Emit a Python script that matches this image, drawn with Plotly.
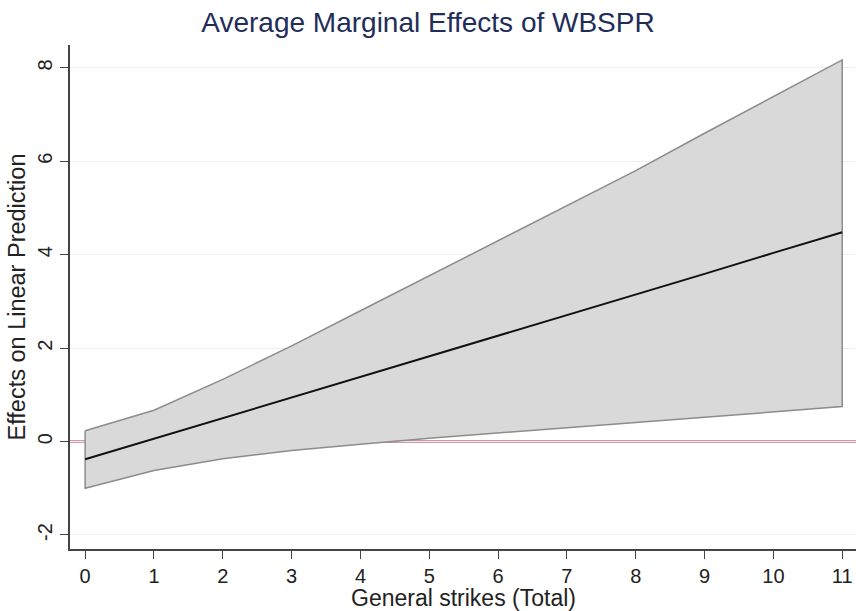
import plotly.graph_objects as go

strikes = [0, 1, 2, 3, 4, 5, 6, 7, 8, 9, 10, 11]
ame = [-0.38, 0.06, 0.50, 0.94, 1.39, 1.83, 2.27, 2.71, 3.15, 3.59, 4.04, 4.48]
upper = [0.23, 0.67, 1.33, 2.05, 2.80, 3.55, 4.30, 5.05, 5.80, 6.60, 7.38, 8.17]
lower = [-1.00, -0.62, -0.37, -0.19, -0.06, 0.07, 0.19, 0.30, 0.41, 0.52, 0.63, 0.75]
y_ticks = [-2, 0, 2, 4, 6, 8]
y_ticktext = ["-2", "0", "2", "4", "6", "8"]

FONT = "Liberation Sans, Arial, sans-serif"

fig = go.Figure()
fig.add_trace(go.Scatter(
    x=strikes + strikes[::-1] + [strikes[0]],
    y=upper + lower[::-1] + [upper[0]],
    mode="lines", fill="toself", fillcolor="#d9d9d9",
    line=dict(color="#8c8c8c", width=1.5), hoverinfo="skip", showlegend=False))
fig.add_trace(go.Scatter(x=strikes, y=ame, mode="lines",
                         line=dict(color="#111111", width=2), showlegend=False))

fig.add_shape(type="line", xref="paper", yref="y", x0=0, x1=1, y0=0, y1=0,
              line=dict(color="#a8304f", width=2), layer="below")

fig.add_annotation(text="General strikes (Total)", xref="paper", yref="paper",
                   x=0.5, y=-0.098, xanchor="center", yanchor="middle", showarrow=False,
                   font=dict(size=23, color="#222222", family=FONT))

fig.update_layout(
    width=856, height=611,
    margin=dict(l=70, r=0, t=45, b=62),
    paper_bgcolor="white", plot_bgcolor="white",
    font=dict(family=FONT, color="#222222"),
    title=dict(text="Average Marginal Effects of WBSPR", x=0.5, xanchor="center",
               y=0.963, yanchor="middle",
               font=dict(size=28, color="#1f2d5a", family=FONT)),
    xaxis=dict(range=[-0.22, 11.2], tickvals=strikes, ticks="outside", ticklen=8,
               tickcolor="#444444", showline=True, linecolor="#444444", linewidth=1.5,
               showgrid=False, zeroline=False, automargin=False,
               tickfont=dict(size=20, color="#222222")),
    yaxis=dict(range=[-2.3, 8.49], tickvals=y_ticks, ticktext=y_ticktext, tickangle=-90,
               ticks="outside", ticklen=8, tickcolor="#444444",
               showline=True, linecolor="#444444", linewidth=1.5,
               showgrid=True, gridcolor="#eeeeee", gridwidth=1, zeroline=False,
               automargin=False,
               tickfont=dict(size=20, color="#222222"),
               title=dict(text="Effects on Linear Prediction", font=dict(size=23.5, color="#222222"),
                          standoff=2)),
)

fig.write_html("out.html", config={"displayModeBar": False},
               post_script="document.body.style.margin='0';")
